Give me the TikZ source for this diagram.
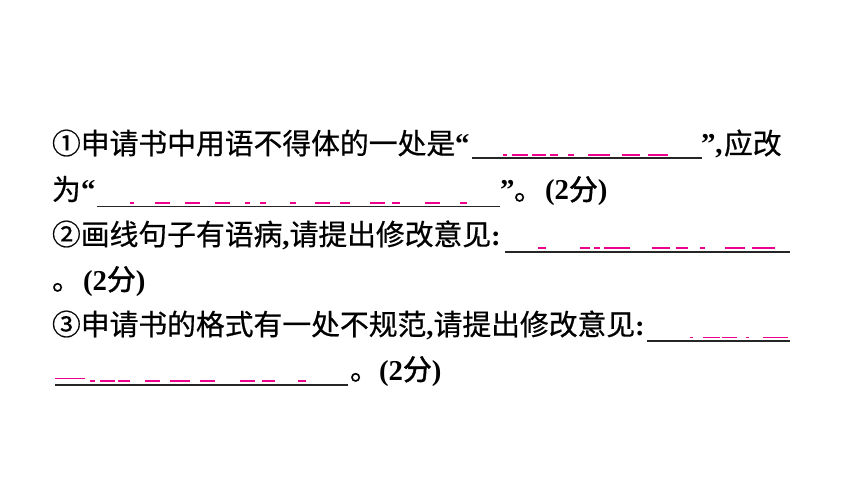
\documentclass[tikz,border=0pt]{standalone}
\usepackage{fontspec}
\setmainfont{Liberation Serif}
\newfontfamily\cjk[FakeBold=0.6]{Noto Sans CJK SC}
\newfontfamily\cjkfen[FakeBold=1.6]{Noto Sans CJK SC}
\begin{document}
\begin{tikzpicture}[x=1pt,y=-1pt,
  txt/.style={anchor=base west,inner sep=0pt,outer sep=0pt,font=\fontsize{28.8}{30}\selectfont},
  uline/.style={draw=black!85,line width=1.5pt},
  frag/.style={draw=magenta,line width=1.6pt}]
\useasboundingbox[fill=white] (0,0) rectangle (860,484);
% ---- line 1
\node[txt] (t1a) at (52,154) {\cjk ①申请书中用语不得体的一处是};
\node[txt] (t1b) at (455,154) {\bfseries “};
\coordinate (u1s) at (472,158); \coordinate (u1e) at (702,158);
\node[txt] (t1c) at (701,154) {\bfseries ”,};
\node[txt] (t1d) at (724,154) {\cjk 应改};
% ---- line 2
\node[txt] (t2a) at (52,200) {\cjk 为};
\node[txt] (t2b) at (81,200) {\bfseries “};
\coordinate (u2s) at (97,206.5); \coordinate (u2e) at (500,206.5);
\node[txt] (t2c) at (500,200) {\bfseries ”};
\node[txt] (t2d) at (514,200) {\cjk 。};
\node[txt] (t2e) at (545,200) {\bfseries (2{\cjkfen\mdseries 分})};
% ---- line 3
\node[txt] (t3a) at (52,245) {\cjk ②画线句子有语病{\rmfamily\bfseries ,}请提出修改意见{\rmfamily\bfseries :}};
\coordinate (u3s) at (505,252); \coordinate (u3e) at (790,252);
% ---- line 4
\node[txt] (t4a) at (52,290) {\cjk 。};
\node[txt] (t4b) at (83,290) {\bfseries (2{\cjkfen\mdseries 分})};
% ---- line 5
\node[txt] (t5a) at (52,335) {\cjk ③申请书的格式有一处不规范{\rmfamily\bfseries ,}请提出修改意见{\rmfamily\bfseries :}};
\coordinate (u5s) at (647,341); \coordinate (u5e) at (790,341);
% ---- line 6
\coordinate (u6s) at (55,385); \coordinate (u6e) at (348,385);
\node[txt] (t6a) at (350,380) {\cjk 。};
\node[txt] (t6b) at (379,380) {\bfseries (2{\cjkfen\mdseries 分})};
% underlines
\foreach \i in {1,2,3,5,6} \draw[uline] (u\i s) -- (u\i e);
% magenta fragments (remnants of hidden answers)
\foreach \a/\b in {503/507,512/528,532/546,550/558,568/574,588/610,622/640,648/668}
  \draw[frag] (\a,155) -- (\b,155);
\foreach \a/\b in {130/134,155/170,185/200,215/230,245/250,260/266,290/296,315/330,340/350,370/385,392/400,425/440,460/467}
  \draw[frag] (\a,203) -- (\b,203);
\foreach \a/\b in {538/546,580/590,594/600,604/630,652/670,676/688,700/705,725/745,752/775}
  \draw[frag] (\a,248) -- (\b,248);
\foreach \a/\b in {690/693,703/720,722/737,746/749,763/788}
  \draw[frag] (\a,337.5) -- (\b,337.5);
\draw[frag] (55,378.5) -- (85,378.5);
\foreach \a/\b in {90/95,100/115,118/130,145/160,170/190,200/215,240/255,262/275,298/306}
  \draw[frag] (\a,381) -- (\b,381);
\end{tikzpicture}
\end{document}
